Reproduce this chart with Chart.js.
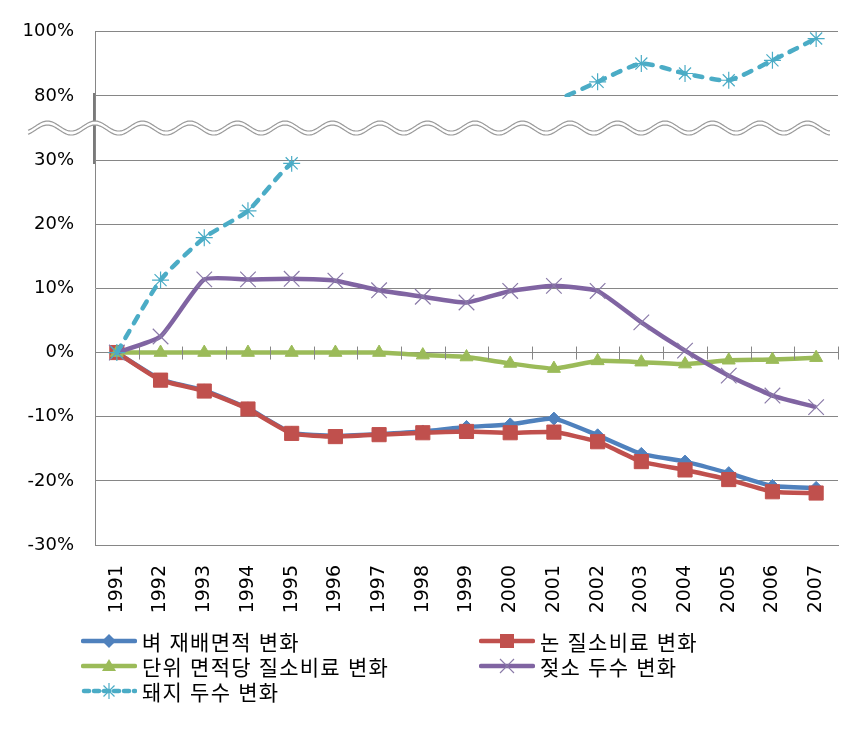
<!DOCTYPE html>
<html lang="ko">
<head>
<meta charset="utf-8">
<script src="https://cdn.jsdelivr.net/npm/chart.js@4.4.1/dist/chart.umd.min.js"></script>
<style>
body{margin:0;background:#fff;}
#wrap{position:relative;width:864px;height:735px;}
#legend{position:absolute;left:0;top:0;width:864px;height:735px;}
.item{position:absolute;height:24px;display:flex;align-items:center;font-family:'Noto Sans CJK KR',sans-serif;font-size:21px;letter-spacing:1.2px;line-height:24px;color:#000;white-space:nowrap;}
.item svg{margin-right:5px;}
</style>
</head>
<body>
<div id="wrap">
  <canvas id="chart" width="864" height="620"></canvas>
  <div id="legend"></div>
</div>
<script>
const years = ["1991","1992","1993","1994","1995","1996","1997","1998","1999","2000","2001","2002","2003","2004","2005","2006","2007"];

// % change vs 1991
const riceArea = [0,-4.2,-5.9,-8.7,-12.5,-13.0,-12.7,-12.3,-11.6,-11.2,-10.3,-12.9,-15.8,-17.0,-18.8,-20.8,-21.1];
const paddyN   = [0,-4.3,-6.0,-8.8,-12.6,-13.1,-12.8,-12.5,-12.3,-12.5,-12.4,-13.9,-17.0,-18.3,-19.8,-21.7,-21.9];
const unitN    = [0,0,0,0,0,0,0,-0.4,-0.7,-1.7,-2.5,-1.3,-1.5,-1.8,-1.2,-1.1,-0.8];
const dairy    = [0,2.5,11.4,11.4,11.5,11.2,9.7,8.7,7.8,9.6,10.4,9.6,4.7,0.3,-3.6,-6.7,-8.5];
// 1996-2001 fall inside the axis break (30%~80%), so they are hidden
const pigs     = [0,11.3,17.9,22.1,29.5,38,47,55,60,68,76,84.4,90.1,87.0,84.9,91.1,97.9];

const seriesNames = ["벼 재배면적 변화","논 질소비료 변화","단위 면적당 질소비료 변화","젖소 두수 변화","돼지 두수 변화"];
const colors = ["#4F81BD","#C0504D","#9BBB59","#8064A2","#4BACC6"];

// broken axis: -30..30 as is, 30..80 squeezed into the break, 80..100 at half scale
function toAxis(v){
    if(v <= 30) return v;
    if(v >= 80) return 40 + (v - 80) / 2;
    return 30 + (v - 30) / 5;
}
function fromAxis(d){
    if(d <= 30) return d;
    if(d >= 40) return 80 + (d - 40) * 2;
    return null;
}
function inBreak(d){
    return d > 30 && d < 40;
}

const breakPlugin = {
    id:"axisBreak",
    beforeDatasetsDraw(chart){
        const {ctx, chartArea:a, scales:{y}} = chart;
        const hi = y.getPixelForValue(40) + 1;
        const lo = y.getPixelForValue(30) - 4;
        ctx.save();
        ctx.beginPath();
        ctx.rect(0, 0, chart.width, chart.height);
        ctx.rect(a.left - 2, hi, a.width + 4, lo - hi);
        ctx.clip("evenodd");
    },
    afterDatasetsDraw(chart){
        chart.ctx.restore();
    },
    afterDraw(chart){
        const {ctx, chartArea:a, scales:{x, y}} = chart;
        ctx.save();

        // cross tick marks on the zero line
        const y0 = y.getPixelForValue(0);
        const step = x.getPixelForValue(1) - x.getPixelForValue(0);
        ctx.strokeStyle = "#868686";
        ctx.lineWidth = 1;
        ctx.beginPath();
        for(let i = 0; i <= years.length; i++){
            const px = Math.round(x.getPixelForValue(0) - step / 2 + i * step) + 0.5;
            ctx.moveTo(px, y0 - 6);
            ctx.lineTo(px, y0 + 7);
        }
        ctx.stroke();

        // darker piece of the axis around the break
        ctx.strokeStyle = "#7a7a7a";
        ctx.lineWidth = 2;
        ctx.beginPath();
        ctx.moveTo(a.left - 1, y.getPixelForValue(40) - 3);
        ctx.lineTo(a.left - 1, y.getPixelForValue(30) + 4);
        ctx.stroke();

        // double wavy break line
        const yc = (y.getPixelForValue(40) + y.getPixelForValue(30)) / 2 - 2;
        const x0 = 28, x1 = a.right - 8, P = 47.5, A = 5, gap = 4;
        const wy = (px, off) => yc + off - A * Math.cos(2 * Math.PI * (px - a.left) / P);
        ctx.beginPath();
        for(let px = x0; px <= x1; px++) ctx.lineTo(px, wy(px, 0));
        for(let px = x1; px >= x0; px--) ctx.lineTo(px, wy(px, gap));
        ctx.closePath();
        ctx.fillStyle = "#fff";
        ctx.fill();
        ctx.strokeStyle = "#9a9a9a";
        ctx.lineWidth = 1.2;
        [0, gap].forEach(off => {
            ctx.beginPath();
            for(let px = x0; px <= x1; px++) ctx.lineTo(px, wy(px, off));
            ctx.stroke();
        });
        ctx.restore();
    }
};

const datasets = [
    {
        label:seriesNames[0], data:riceArea.map(toAxis), order:5,
        borderColor:colors[0], backgroundColor:colors[0], borderWidth:4.5, tension:0.15,
        pointStyle:"rectRot", pointRadius:6.5, pointBorderWidth:1
    },
    {
        label:seriesNames[1], data:paddyN.map(toAxis), order:4,
        borderColor:colors[1], backgroundColor:colors[1], borderWidth:4.5, tension:0.15,
        pointStyle:"rect", pointRadius:10, pointBorderWidth:1
    },
    {
        label:seriesNames[2], data:unitN.map(toAxis), order:3,
        borderColor:colors[2], backgroundColor:colors[2], borderWidth:4.5, tension:0.15,
        pointStyle:"triangle", pointRadius:7.5, pointBorderWidth:1
    },
    {
        label:seriesNames[3], data:dairy.map(toAxis), order:2,
        borderColor:colors[3], backgroundColor:colors[3], borderWidth:4.5, tension:0.15,
        pointStyle:"crossRot", pointRadius:11, pointBorderWidth:1.2, pointBorderColor:"#8a7aa8"
    },
    {
        label:seriesNames[4], data:pigs.map(toAxis), order:1,
        borderColor:colors[4], backgroundColor:colors[4], borderWidth:4.5, tension:0.2,
        borderDash:[8,9], borderCapStyle:"round",
        segment:{
            // the line leaves the lower panel at 1995 and is not drawn into the break
            borderColor:ctx => (ctx.p0.parsed.y <= 30 && ctx.p1.parsed.y > 30) ? "transparent" : undefined
        },
        pointStyle:"star", pointBorderWidth:1.2, pointBorderColor:"#4BACC6",
        pointRadius:ctx => inBreak(ctx.parsed ? ctx.parsed.y : 0) ? 0 : 8.5
    }
];

new Chart(document.getElementById("chart"), {
    type:"line",
    data:{labels:years, datasets:datasets},
    options:{
        responsive:false,
        animation:false,
        devicePixelRatio:1,
        layout:{padding:{left:0, right:26, top:28, bottom:0}},
        plugins:{legend:{display:false}, tooltip:{enabled:false}},
        scales:{
            x:{
                offset:true,
                grid:{display:false},
                border:{display:true, color:"#868686", width:1},
                ticks:{
                    minRotation:90, maxRotation:90, padding:12, color:"#000",
                    font:{family:"'DejaVu Sans', sans-serif", size:19}
                },
                afterFit(scale){ scale.height = 75; }
            },
            y:{
                min:-30, max:50,
                grid:{color:"#868686", drawTicks:false},
                border:{display:true, color:"#868686", width:1},
                ticks:{
                    stepSize:10, padding:21, color:"#000",
                    font:{family:"'DejaVu Sans', sans-serif", size:18},
                    callback:function(value){
                        const r = fromAxis(value);
                        return r === null ? "" : r + "%";
                    }
                },
                afterFit(scale){ scale.width = 95; }
            }
        }
    },
    plugins:[breakPlugin]
});

// legend: two columns like the original
function markerSvg(i){
    const c = colors[i];
    let line = `<line x1="2" y1="12" x2="54" y2="12" stroke="${c}" stroke-width="4.5" stroke-linecap="round"/>`;
    let m = "";
    if(i === 0) m = `<polygon points="28,5 35,12 28,19 21,12" fill="${c}"/>`;
    if(i === 1) m = `<rect x="21" y="5" width="14" height="14" fill="${c}"/>`;
    if(i === 2) m = `<polygon points="28,5 35,17 21,17" fill="${c}"/>`;
    if(i === 3) m = `<path d="M21,5 L35,19 M35,5 L21,19" stroke="#8a7aa8" stroke-width="1.2"/>`;
    if(i === 4){
        line = `<line x1="3" y1="12" x2="54" y2="12" stroke="${c}" stroke-width="4.5" stroke-dasharray="5 5" stroke-linecap="round"/>`;
        m = `<path d="M28,4 L28,20 M20,12 L36,12 M22.5,6.5 L33.5,17.5 M33.5,6.5 L22.5,17.5" stroke="${c}" stroke-width="1.2"/>`;
    }
    return `<svg width="56" height="24" viewBox="0 0 56 24">${line}${m}</svg>`;
}

const legend = document.getElementById("legend");
seriesNames.forEach((name, i) => {
    const col = i % 2, row = Math.floor(i / 2);
    const div = document.createElement("div");
    div.className = "item";
    div.style.left = (col ? 479 : 81) + "px";
    div.style.top = (629 + row * 25) + "px";
    div.innerHTML = markerSvg(i) + `<span>${name}</span>`;
    legend.appendChild(div);
});
</script>
</body>
</html>
